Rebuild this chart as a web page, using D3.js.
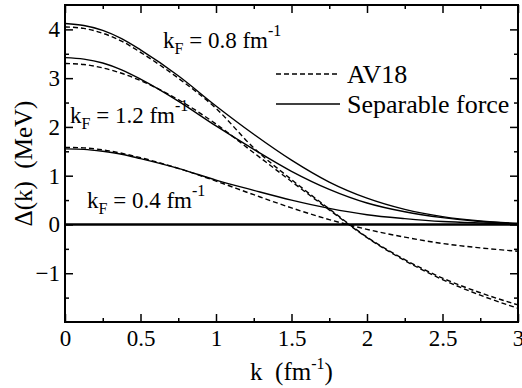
<!DOCTYPE html>
<html>
<head>
<meta charset="utf-8">
<script src="https://cdn.jsdelivr.net/npm/d3@7"></script>
<style>
  html, body { margin: 0; padding: 0; background: #fff; }
  svg text { font-family: 'Liberation Serif', 'DejaVu Serif', serif; }
</style>
</head>
<body>
<div id="chart"></div>
<script>
// momentum grid (fm^-1)
const kValues = [0, 0.125, 0.25, 0.375, 0.5, 0.75, 1.0, 1.25, 1.5, 1.75, 2.0, 2.25, 2.5, 2.75, 3.0];

// gap Delta(k) in MeV
const sepKF08 = [4.12, 4.08, 3.98, 3.81, 3.58, 3.05, 2.43, 1.85, 1.32, 0.87, 0.54, 0.31, 0.16, 0.07, 0.02];
const av18KF08 = [4.05, 4.02, 3.92, 3.76, 3.53, 3.00, 2.38, 1.57, 0.92, 0.32, -0.26, -0.72, -1.10, -1.40, -1.65];
const sepKF12 = [3.42, 3.39, 3.31, 3.17, 2.98, 2.53, 2.02, 1.54, 1.09, 0.72, 0.44, 0.26, 0.14, 0.06, 0.02];
const av18KF12 = [3.30, 3.28, 3.21, 3.10, 2.95, 2.56, 2.06, 1.47, 0.88, 0.30, -0.27, -0.74, -1.13, -1.45, -1.72];
const sepKF04 = [1.55, 1.54, 1.50, 1.44, 1.35, 1.15, 0.91, 0.70, 0.50, 0.33, 0.20, 0.12, 0.06, 0.03, 0.01];
const av18KF04 = [1.58, 1.57, 1.53, 1.46, 1.37, 1.15, 0.89, 0.61, 0.34, 0.10, -0.10, -0.26, -0.39, -0.48, -0.55];

const xTicks = [0, 0.5, 1, 1.5, 2, 2.5, 3];
const xMinorTicks = [0.25, 0.75, 1.25, 1.75, 2.25, 2.75];
const yTicks = [-1, 0, 1, 2, 3, 4];
const yMinorTicks = [-1.5, -0.5, 0.5, 1.5, 2.5, 3.5];

const W = 522, H = 388;
const margin = { top: 5, right: 4, bottom: 66, left: 65 };
const width = W - margin.left - margin.right;
const height = H - margin.top - margin.bottom;

const svg = d3.select('#chart').append('svg')
  .attr('width', W)
  .attr('height', H);

const g = svg.append('g')
  .attr('transform', `translate(${margin.left},${margin.top})`);

const x = d3.scaleLinear().domain([0, 3]).range([0, width]);
const y = d3.scaleLinear().domain([-2, 4.5]).range([height, 0]);

function styleAxis(sel) {
  sel.attr('font-family', null);
  sel.select('.domain').remove();
  sel.selectAll('line').attr('stroke', '#000').attr('stroke-width', 1.5);
  sel.selectAll('text')
    .style('font-size', '23px')
    .attr('fill', '#000');
}

// bottom axis, ticks point inward
g.append('g')
  .attr('transform', `translate(0,${height})`)
  .call(d3.axisBottom(x).tickValues(xTicks).tickSize(-8).tickPadding(8).tickFormat(d3.format('')))
  .call(styleAxis)
  .call(s => s.selectAll('text').attr('dy', '0.71em'));
g.append('g')
  .attr('transform', `translate(0,${height})`)
  .call(d3.axisBottom(x).tickValues(xMinorTicks).tickSize(-4).tickFormat(''))
  .call(styleAxis);

// top axis (mirror ticks)
g.append('g')
  .call(d3.axisTop(x).tickValues(xTicks).tickSize(-8).tickFormat(''))
  .call(styleAxis);
g.append('g')
  .call(d3.axisTop(x).tickValues(xMinorTicks).tickSize(-4).tickFormat(''))
  .call(styleAxis);

// left axis
g.append('g')
  .call(d3.axisLeft(y).tickValues(yTicks).tickSize(-8).tickPadding(5).tickFormat(d3.format('')))
  .call(styleAxis);
g.append('g')
  .call(d3.axisLeft(y).tickValues(yMinorTicks).tickSize(-4).tickFormat(''))
  .call(styleAxis);

// right axis (mirror ticks)
g.append('g')
  .attr('transform', `translate(${width},0)`)
  .call(d3.axisRight(y).tickValues(yTicks).tickSize(-8).tickFormat(''))
  .call(styleAxis);
g.append('g')
  .attr('transform', `translate(${width},0)`)
  .call(d3.axisRight(y).tickValues(yMinorTicks).tickSize(-4).tickFormat(''))
  .call(styleAxis);

// zero line
g.append('line')
  .attr('x1', x(0)).attr('x2', x(3))
  .attr('y1', y(0)).attr('y2', y(0))
  .attr('stroke', '#000')
  .attr('stroke-width', 2.5);

const line = d3.line()
  .x((d, i) => x(kValues[i]))
  .y(d => y(d))
  .curve(d3.curveMonotoneX);

const series = [
  { values: sepKF08, dash: null },
  { values: av18KF08, dash: '5,3' },
  { values: sepKF12, dash: null },
  { values: av18KF12, dash: '5,3' },
  { values: sepKF04, dash: null },
  { values: av18KF04, dash: '5,3' },
];

g.selectAll('path.curve')
  .data(series)
  .enter().append('path')
  .attr('class', 'curve')
  .attr('fill', 'none')
  .attr('stroke', '#000')
  .attr('stroke-width', 1.4)
  .attr('stroke-dasharray', d => d.dash)
  .attr('d', d => line(d.values));

// frame
g.append('rect')
  .attr('width', width)
  .attr('height', height)
  .attr('fill', 'none')
  .attr('stroke', '#000')
  .attr('stroke-width', 2);

// kF annotations
function kfLabel(px, py, value) {
  const t = svg.append('text')
    .attr('x', px).attr('y', py)
    .style('font-size', '23px');
  t.append('tspan').text('k');
  t.append('tspan').attr('dy', 6).style('font-size', '16px').text('F');
  t.append('tspan').attr('dy', -6).text(` = ${value} fm`);
  t.append('tspan').attr('dy', -12).style('font-size', '16px').text('-1');
}
kfLabel(163, 48, '0.8');
kfLabel(70, 123, '1.2');
kfLabel(87, 208, '0.4');

// legend
const legend = svg.append('g');
const legendItems = [
  { label: 'AV18', dash: '5,3', y: 74 },
  { label: 'Separable force', dash: null, y: 104 },
];
legendItems.forEach(item => {
  legend.append('line')
    .attr('x1', 276).attr('x2', 340)
    .attr('y1', item.y).attr('y2', item.y)
    .attr('stroke', '#000')
    .attr('stroke-width', 1.4)
    .attr('stroke-dasharray', item.dash);
  legend.append('text')
    .attr('x', 347).attr('y', item.y + 9)
    .style('font-size', '26px')
    .text(item.label);
});

// axis titles
const xTitle = svg.append('text')
  .attr('x', margin.left + width / 2)
  .attr('y', 380)
  .attr('text-anchor', 'middle')
  .style('font-size', '25px');
xTitle.append('tspan').text('k\u00a0\u00a0(fm');
xTitle.append('tspan').attr('dy', -11).style('font-size', '16px').text('-1');
xTitle.append('tspan').attr('dy', 11).text(')');

svg.append('text')
  .attr('transform', `translate(32,${margin.top + height / 2}) rotate(-90)`)
  .attr('text-anchor', 'middle')
  .style('font-size', '25px')
  .text('\u0394(k)\u00a0\u00a0(MeV)');
</script>
</body>
</html>
